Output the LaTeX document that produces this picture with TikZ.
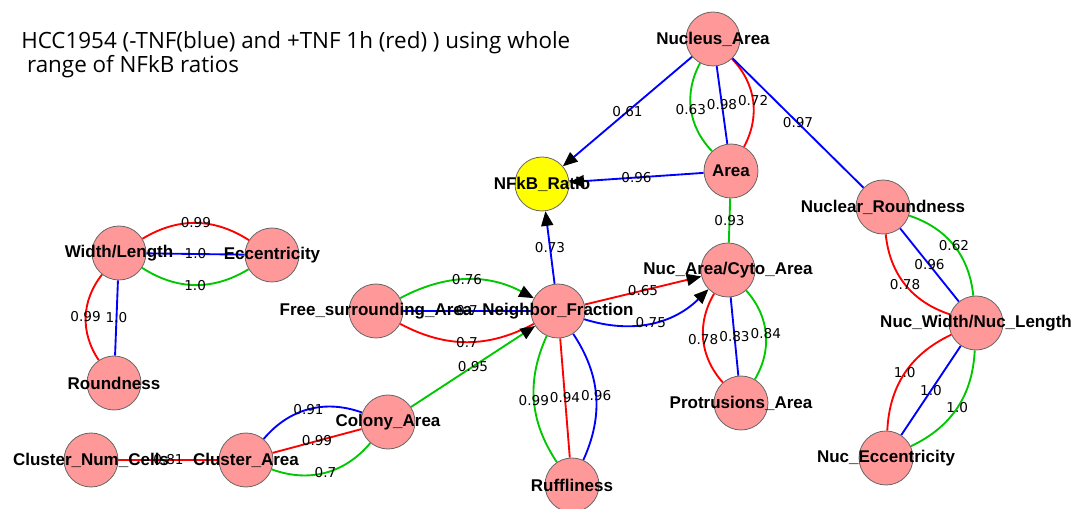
\documentclass[tikz,border=0pt]{standalone}
\usepackage{fontspec}
\setmainfont{Liberation Sans}
\newfontfamily\edgefont{DejaVu Sans}
\newfontfamily\titlefont{Open Sans}
\usetikzlibrary{arrows.meta,backgrounds}

\definecolor{nodepink}{RGB}{255,153,153}
\definecolor{nodeyellow}{RGB}{255,255,0}
\definecolor{corrgreen}{RGB}{0,200,0}
\definecolor{corrred}{RGB}{255,0,0}
\definecolor{corrblue}{RGB}{0,0,255}

\tikzset{
  feature/.style={circle, draw=black!60, line width=0.6pt, fill=nodepink,
    minimum size=40.5pt, inner sep=0pt},
  flabel/.style={font=\bfseries\fontsize{12.75}{14}\selectfont, inner sep=0pt},
  elabel/.style={font=\edgefont\fontsize{10.2}{12}\selectfont, text=black, inner sep=0pt},
  corr/.style={line width=1.4pt},
  directed/.style={-{Triangle[length=11pt,width=9pt,color=black]}},
}

% a feature node: name, position, label
\newcommand{\feature}[4][nodepink]
{
\node[feature, fill=#1, label={[flabel]center:#4}] (#2) at (#3) {};
}
% a correlation edge: style, from, value, to
\newcommand{\corredge}[4]
{
\draw[corr, #1] (#2) to node[elabel]{#3} (#4);
}

\begin{document}
\begin{tikzpicture}[x=0.75pt, y=0.75pt]
  \useasboundingbox (0,0) rectangle (1078,-509);

  \node[anchor=base west, align=left, inner sep=0pt,
    font=\titlefont\fontsize{16.8}{18}\selectfont]
    (title) at (21,-73) {HCC1954 (-TNF(blue) and +TNF 1h (red) ) using whole\\
    \ range of NFkB ratios};

  \feature{nucarea}{713,-39}{Nucleus\_Area}
  \feature{area}{731,-171}{Area}
  \feature[nodeyellow]{nfkb}{542,-184}{NFkB\_Ratio}
  \feature{nucround}{883,-207}{Nuclear\_Roundness}
  \feature{nucwidth}{976,-323}{Nuc\_Width/Nuc\_Length}
  \feature{nucecc}{886,-458}{Nuc\_Eccentricity}
  \feature{widthlen}{119,-253}{Width/Length}
  \feature{ecc}{272,-255}{Eccentricity}
  \feature{round}{114,-383}{Roundness}
  \feature{freearea}{376,-311}{Free\_surrounding\_Area}
  \feature{neighbor}{558,-311}{Neighbor\_Fraction}
  \feature{nuccyto}{728,-270}{Nuc\_Area/Cyto\_Area}
  \feature{protr}{741,-403}{Protrusions\_Area}
  \feature{clnum}{91,-460}{Cluster\_Num\_Cells}
  \feature{clarea}{246,-460}{Cluster\_Area}
  \feature{colony}{388,-422}{Colony\_Area}
  \feature{ruffle}{572,-485}{Ruffliness}

  \begin{pgfonlayer}{background}
    \fill[white] (0,0) rectangle (1078,-509);

    % edges into NFkB_Ratio
    \corredge{corrblue, directed}{nucarea}{0.61}{nfkb}
    \corredge{corrblue, directed}{area}{0.96}{nfkb}
    \corredge{corrblue, directed}{neighbor}{0.73}{nfkb}

    % nucleus group
    \corredge{corrgreen, bend right=36}{nucarea}{0.63}{area}
    \corredge{corrblue}{nucarea}{0.98}{area}
    \corredge{corrred, bend left=36}{nucarea}{0.72}{area}
    \corredge{corrblue}{nucarea}{0.97}{nucround}
    \corredge{corrgreen}{area}{0.93}{nuccyto}

    \corredge{corrred, bend right=33}{nucround}{0.78}{nucwidth}
    \corredge{corrblue}{nucround}{0.96}{nucwidth}
    \corredge{corrgreen, bend left=33}{nucround}{0.62}{nucwidth}

    \corredge{corrred, bend right=31}{nucwidth}{1.0}{nucecc}
    \corredge{corrblue}{nucwidth}{1.0}{nucecc}
    \corredge{corrgreen, bend left=31}{nucwidth}{1.0}{nucecc}

    % shape group
    \corredge{corrred, bend left=32}{widthlen}{0.99}{ecc}
    \corredge{corrblue}{widthlen}{1.0}{ecc}
    \corredge{corrgreen, bend right=32}{widthlen}{1.0}{ecc}
    \corredge{corrred, bend right=36}{widthlen}{0.99}{round}
    \corredge{corrblue}{widthlen}{1.0}{round}

    % neighbourhood group
    \corredge{corrgreen, bend left=28, directed}{freearea}{0.76}{neighbor}
    \corredge{corrblue}{freearea}{0.7}{neighbor}
    \corredge{corrred, bend right=28}{freearea}{0.7}{neighbor}
    \corredge{corrgreen, directed}{colony}{0.95}{neighbor}
    \corredge{corrred, directed}{neighbor}{0.65}{nuccyto}
    \corredge{corrblue, bend right=31, directed}{neighbor}{0.75}{nuccyto}

    \corredge{corrgreen, bend right=29}{neighbor}{0.99}{ruffle}
    \corredge{corrred}{neighbor}{0.94}{ruffle}
    \corredge{corrblue, bend left=29}{neighbor}{0.96}{ruffle}

    \corredge{corrred, bend right=36}{nuccyto}{0.78}{protr}
    \corredge{corrblue}{nuccyto}{0.83}{protr}
    \corredge{corrgreen, bend left=36}{nuccyto}{0.84}{protr}

    % cluster group
    \corredge{corrred}{clnum}{0.81}{clarea}
    \corredge{corrblue, bend left=35}{clarea}{0.91}{colony}
    \corredge{corrred}{clarea}{0.99}{colony}
    \corredge{corrgreen, bend right=35}{clarea}{0.7}{colony}
  \end{pgfonlayer}

\end{tikzpicture}
\end{document}
